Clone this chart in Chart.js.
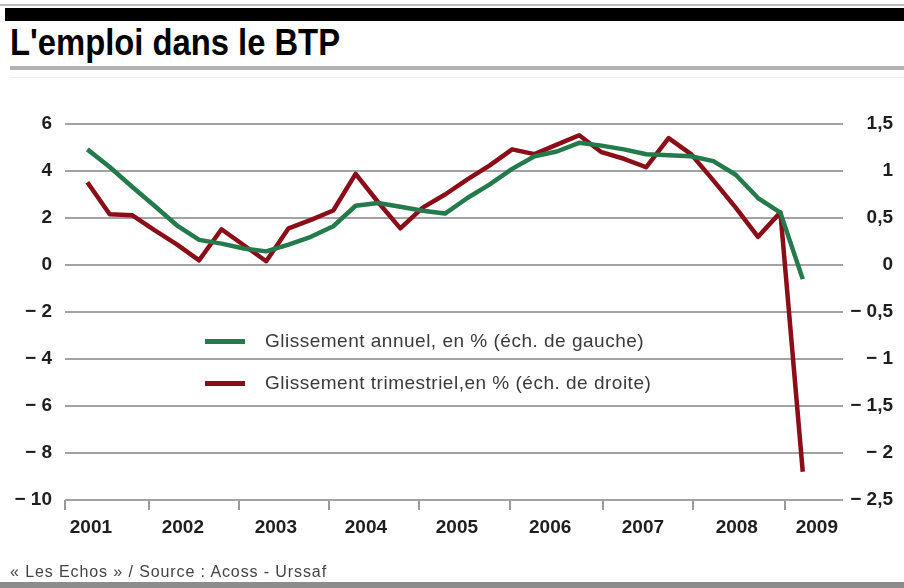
<!DOCTYPE html>
<html>
<head>
<meta charset="utf-8">
<script src="https://cdn.jsdelivr.net/npm/chart.js@4.4.1/dist/chart.umd.min.js"></script>
<style>
body{margin:0;width:904px;height:588px;position:relative;background:#fff;overflow:hidden;
  font-family:"Liberation Sans",Arial,sans-serif}
#topline{position:absolute;left:0;top:4px;width:904px;height:2px;background:#bdbdbd}
#topbar{position:absolute;left:5px;top:8px;width:899px;height:13px;background:#000}
#title{position:absolute;left:10px;top:25px;font-size:36px;line-height:36px;font-weight:bold;color:#000;
  transform:scaleX(0.91);transform-origin:0 0;white-space:nowrap}
#rule{position:absolute;left:10px;top:66px;width:894px;height:4px;background:#b3b3b3}
#rule2{position:absolute;left:10px;top:77px;width:894px;height:1px;background:#ececec}
#c{position:absolute;left:0;top:0}
.leg{position:absolute;left:205px;height:24px;display:flex;align-items:center;font-size:19px;color:#3a3a3a;letter-spacing:0.5px;white-space:nowrap}
.leg i{display:block;width:40px;height:5px;margin-right:20px}
#footer{position:absolute;left:10px;top:563px;font-size:16px;color:#444;letter-spacing:0.9px;white-space:nowrap}
#bottombar{position:absolute;left:0;top:582px;width:904px;height:6px;background:#8c8c8c}
</style>
</head>
<body>
<div id="topline"></div>
<div id="topbar"></div>
<div id="title">L'emploi dans le BTP</div>
<div id="rule"></div>
<div id="rule2"></div>
<canvas id="c" width="904" height="588"></canvas>
<div class="leg" style="top:329px"><i style="background:#237a4b"></i>Glissement annuel, en % (éch. de gauche)</div>
<div class="leg" style="top:371px"><i style="background:#8a0d17"></i>Glissement trimestriel,en % (éch. de droite)</div>
<div id="footer">« Les Echos » / Source : Acoss - Urssaf</div>
<div id="bottombar"></div>

<script>
// trimestres 2001T1 .. 2009T1
const quarters = ["2001T1","2001T2","2001T3","2001T4","2002T1","2002T2","2002T3","2002T4",
  "2003T1","2003T2","2003T3","2003T4","2004T1","2004T2","2004T3","2004T4",
  "2005T1","2005T2","2005T3","2005T4","2006T1","2006T2","2006T3","2006T4",
  "2007T1","2007T2","2007T3","2007T4","2008T1","2008T2","2008T3","2008T4","2009T1"];

// glissement annuel, en % (échelle de gauche)
const annuel = [4.92, 4.17, 3.33, 2.52, 1.69, 1.07, 0.91, 0.70, 0.58, 0.87, 1.20, 1.65,
  2.52, 2.64, 2.48, 2.31, 2.19, 2.85, 3.43, 4.09, 4.63, 4.83, 5.20, 5.08,
  4.92, 4.71, 4.67, 4.63, 4.42, 3.84, 2.85, 2.23, -0.60];

// glissement trimestriel, en % (échelle de droite)
const trimestriel = [0.88, 0.54, 0.53, 0.37, 0.22, 0.05, 0.38, 0.21, 0.04, 0.39, 0.48, 0.58,
  0.97, 0.67, 0.39, 0.61, 0.75, 0.91, 1.06, 1.23, 1.18, 1.28, 1.38, 1.20,
  1.13, 1.04, 1.35, 1.18, 0.90, 0.61, 0.30, 0.56, -2.20];

const years = ["2001","2002","2003","2004","2005","2006","2007","2008","2009"];
const leftTicks = [6, 4, 2, 0, -2, -4, -6, -8, -10];
const rightTicks = [1.5, 1, 0.5, 0, -0.5, -1, -1.5, -2, -2.5];

// où tombent les libellés d'années et les petits traits (en trimestres)
const yearLabelPos = [0.16, 4.27, 8.43, 12.46, 16.53, 20.7, 24.85, 29.05, 32.63];
const yearTickPos = [-1, 2.75, 6.8, 10.8, 14.85, 18.9, 23.05, 27.1, 31.2];

const tickFont = {family:"'Liberation Sans',Arial,sans-serif", size:19, weight:'bold'};

function fmt(v){
  const s = String(Math.abs(v)).replace('.', ',');
  return v < 0 ? '\u2212 ' + s : s;
}

new Chart(document.getElementById('c'), {
  type:'line',
  data:{
    datasets:[
      {label:'Glissement annuel', yAxisID:'y',
       data:annuel.map((v,i)=>({x:i,y:v})),
       borderColor:'#237a4b', borderWidth:4.5, pointRadius:0, tension:0,
       borderJoinStyle:'round', borderCapStyle:'butt', clip:false},
      {label:'Glissement trimestriel', yAxisID:'y2',
       data:trimestriel.map((v,i)=>({x:i,y:v})),
       borderColor:'#8a0d17', borderWidth:4.5, pointRadius:0, tension:0,
       borderJoinStyle:'round', borderCapStyle:'butt', clip:false}
    ]
  },
  options:{
    responsive:false,
    animation:false,
    devicePixelRatio:1,
    layout:{padding:{top:124, bottom:40, left:0, right:11}},
    plugins:{legend:{display:false}, tooltip:{enabled:false}},
    scales:{
      x:{
        type:'linear', min:-1, max:33.8,
        afterBuildTicks:s=>{
          s.ticks = yearTickPos.concat(yearLabelPos).sort((a,b)=>a-b).map(v=>({value:v}));
        },
        afterFit:s=>{ s.height = 48; },
        border:{display:false},
        grid:{drawOnChartArea:false, drawTicks:true, tickLength:10, lineWidth:2,
          tickColor:ctx=> (ctx.tick && yearTickPos.includes(ctx.tick.value)) ? '#9a9a9a' : 'rgba(0,0,0,0)'},
        ticks:{autoSkip:false, maxRotation:0, padding:6, color:'#1e1e1e', font:tickFont,
          callback:v=>{ const k = yearLabelPos.indexOf(v); return k >= 0 ? years[k] : ''; }}
      },
      y:{
        position:'left', min:-10, max:6,
        afterBuildTicks:s=>{ s.ticks = leftTicks.map(v=>({value:v})); },
        afterFit:s=>{ s.width = 65; },
        border:{display:false},
        grid:{color:'#a3a3a3', lineWidth:2, drawTicks:false},
        ticks:{padding:13, color:'#1e1e1e', font:tickFont, callback:v=>fmt(v)}
      },
      y2:{
        position:'right', min:-2.5, max:1.5,
        afterBuildTicks:s=>{ s.ticks = rightTicks.map(v=>({value:v})); },
        afterFit:s=>{ s.width = 50; },
        border:{display:false},
        grid:{drawOnChartArea:false, drawTicks:false},
        ticks:{padding:12, crossAlign:'far', color:'#1e1e1e', font:tickFont, callback:v=>fmt(v)}
      }
    }
  }
});
</script>
</body>
</html>
